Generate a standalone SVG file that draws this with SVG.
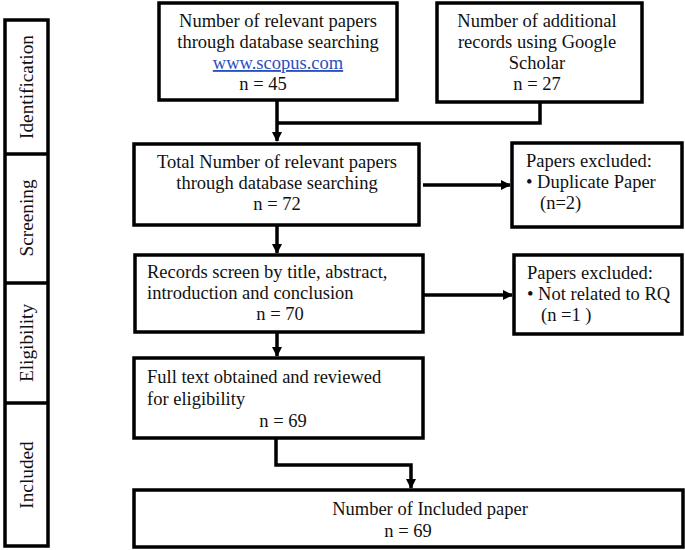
<svg xmlns="http://www.w3.org/2000/svg" width="685" height="550" viewBox="0 0 685 550">
<defs>
<marker id="ah" markerWidth="10" markerHeight="10" refX="9" refY="5" orient="auto" markerUnits="userSpaceOnUse">
<path d="M0,0 L10,5 L0,10 Z" fill="#000"/>
</marker>
<style>
.box{fill:#fff;stroke:#000;stroke-width:3.5}
.t{font-family:"Liberation Serif","Times New Roman",serif;font-size:18.5px;fill:#111}
.s{font-size:19.3px}
.c{text-anchor:middle}
.link{fill:#2a4fbf;text-decoration:underline}
.con{fill:none;stroke:#000;stroke-width:3.5}
</style>
</defs>
<rect width="685" height="550" fill="#fff"/>
<g id="stages">
<rect class="box" x="5" y="20" width="43" height="526"/>
<line x1="5" y1="154" x2="48" y2="154" stroke="#000" stroke-width="3.5"/>
<line x1="5" y1="283" x2="48" y2="283" stroke="#000" stroke-width="3.5"/>
<line x1="5" y1="403" x2="48" y2="403" stroke="#000" stroke-width="3.5"/>
<text class="t s c" transform="translate(33,87) rotate(-90)">Identification</text>
<text class="t s c" transform="translate(33,218) rotate(-90)">Screening</text>
<text class="t s c" transform="translate(33,343) rotate(-90)">Eligibility</text>
<text class="t s c" transform="translate(33,475) rotate(-90)">Included</text>
</g>
<g id="connectors">
<line class="con" x1="277" y1="100" x2="277" y2="141" marker-end="url(#ah)"/>
<polyline class="con" points="540,101 540,123 277,123"/>
<line class="con" x1="277" y1="225" x2="277" y2="253" marker-end="url(#ah)"/>
<line class="con" x1="277" y1="332" x2="277" y2="356" marker-end="url(#ah)"/>
<line class="con" x1="423" y1="185" x2="510" y2="185" marker-end="url(#ah)"/>
<line class="con" x1="423" y1="295" x2="512" y2="295" marker-end="url(#ah)"/>
<polyline class="con" points="276,438 276,465 411,465 411,488" marker-end="url(#ah)"/>
</g>
<g id="n1">
<rect class="box" x="159" y="3" width="238" height="97"/>
<text class="t c" x="278" y="27">Number of relevant papers</text>
<text class="t c" x="278" y="48">through database searching</text>
<text class="t c link" x="278" y="69">www.scopus.com</text>
<text class="t c" x="263" y="90">n = 45</text>
</g>
<g id="n2">
<rect class="box" x="437" y="3" width="205" height="99"/>
<text class="t c" x="537" y="27">Number of additional</text>
<text class="t c" x="537" y="48">records using Google</text>
<text class="t c" x="537" y="69">Scholar</text>
<text class="t c" x="537" y="90">n = 27</text>
</g>
<g id="n3">
<rect class="box" x="134" y="144" width="285" height="81"/>
<text class="t c" x="277" y="168">Total Number of relevant papers</text>
<text class="t c" x="277" y="189">through database searching</text>
<text class="t c" x="277" y="210">n = 72</text>
</g>
<g id="n4">
<rect class="box" x="512" y="143" width="170" height="84"/>
<text class="t" x="526" y="167">Papers excluded:</text>
<text class="t" x="526" y="188">• Duplicate Paper</text>
<text class="t" x="540" y="209">(n=2)</text>
</g>
<g id="n5">
<rect class="box" x="135" y="255" width="288" height="77"/>
<text class="t" x="147" y="278">Records screen by title, abstract,</text>
<text class="t" x="147" y="299">introduction and conclusion</text>
<text class="t c" x="280" y="320">n = 70</text>
</g>
<g id="n6">
<rect class="box" x="514" y="255" width="168" height="79"/>
<text class="t" x="527" y="279">Papers excluded:</text>
<text class="t" x="527" y="300">• Not related to RQ</text>
<text class="t" x="541" y="321">(n =1 )</text>
</g>
<g id="n7">
<rect class="box" x="134" y="358" width="289" height="80"/>
<text class="t" x="147" y="383">Full text obtained and reviewed</text>
<text class="t" x="147" y="405">for eligibility</text>
<text class="t c" x="283" y="427">n = 69</text>
</g>
<g id="n8">
<rect class="box" x="134" y="490" width="549" height="57"/>
<text class="t c" x="430" y="515">Number of Included paper</text>
<text class="t c" x="408" y="537">n = 69</text>
</g>
</svg>
